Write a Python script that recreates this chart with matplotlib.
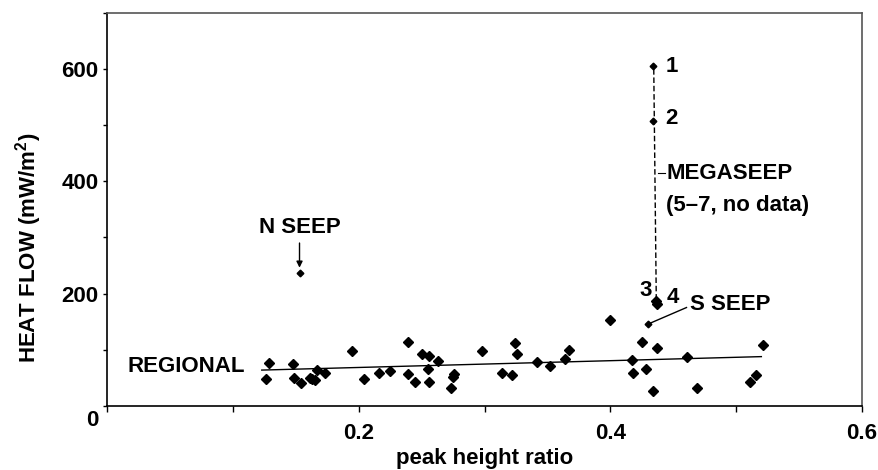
import numpy as np
import matplotlib.pyplot as plt

plt.rcParams['font.family'] = ['Liberation Sans', 'DejaVu Sans']
plt.rcParams['font.weight'] = 'bold'
plt.rcParams['axes.labelweight'] = 'bold'
plt.rcParams['mathtext.fontset'] = 'custom'
plt.rcParams['mathtext.bf'] = 'Liberation Sans:bold'
plt.rcParams['mathtext.rm'] = 'Liberation Sans:bold'

# regional heat flow vs peak height ratio
reg_x = [0.129, 0.126, 0.148, 0.149, 0.154, 0.161, 0.167, 0.163, 0.165, 0.173,
         0.195, 0.204, 0.216, 0.225, 0.239, 0.239, 0.245, 0.250, 0.256, 0.255,
         0.256, 0.263, 0.276, 0.275, 0.273, 0.298, 0.314, 0.322, 0.324, 0.326,
         0.342, 0.352, 0.364, 0.367, 0.400, 0.417, 0.418, 0.425, 0.428, 0.434,
         0.437, 0.461, 0.469, 0.521, 0.516, 0.511, 0.436, 0.437]
reg_y = [77, 48, 74, 49, 40, 49, 64, 47, 45, 58,
         98, 47, 59, 62, 114, 56, 42, 92, 89, 65,
         42, 80, 56, 51, 31, 97, 58, 55, 111, 93,
         78, 71, 83, 99, 153, 82, 59, 114, 66, 27,
         102, 86, 32, 108, 54, 43, 187, 181]

# small markers: seeps 1, 2, S SEEP, N SEEP
small_x = [0.434, 0.434, 0.430, 0.153]
small_y = [605, 508, 145, 236]

# regression line end points
fit_x = [0.123, 0.520]
fit_y = [63.5, 87.5]

# megaseep dashed connector
mega_x = [0.4345, 0.4365]
mega_y = [600, 190]

fs = 16

fig = plt.figure(figsize=(8.79, 4.70), dpi=100)
ax = fig.add_axes([0.1217, 0.1368, 0.859, 0.8355])

ax.plot(fit_x, fit_y, '-', color='black', lw=1.0)
ax.plot(mega_x, mega_y, '--', color='black', lw=1.0, dashes=(4, 2))
ax.plot(reg_x, reg_y, 'D', color='black', ms=4.6, mec='black')
ax.plot(small_x, small_y, 'D', color='black', ms=3.4, mec='black')

ax.set_xlim(0, 0.6)
ax.set_ylim(0, 700)
ax.set_xticks(np.arange(0, 0.61, 0.1))
ax.set_xticklabels(['', '', '0.2', '', '0.4', '', '0.6'])
ax.set_yticks(np.arange(0, 701, 100))
ax.set_yticklabels(['', '', '200', '', '400', '', '600', ''])
ax.tick_params(axis='x', direction='out', length=4.2, width=1, pad=8, labelsize=fs)
ax.tick_params(axis='y', direction='out', length=3, width=1, pad=3, labelsize=fs)
ax.annotate('0', xy=(0, 0), xytext=(-8, -15), textcoords='offset pixels',
            ha='right', va='center', fontsize=fs, annotation_clip=False)

for s in ['left', 'bottom']:
    ax.spines[s].set_color('black')
    ax.spines[s].set_linewidth(1.2)
for s in ['top', 'right']:
    ax.spines[s].set_color('#555555')
    ax.spines[s].set_linewidth(1.2)

ax.set_xlabel('peak height ratio', fontsize=fs, fontweight='bold', labelpad=3)
fig.text(29 / 879, 1 - 248 / 470, r'HEAT FLOW (mW/m$^{\mathbf{2}}$)', rotation=90,
         ha='center', va='center', fontsize=fs)

# annotations
ax.text(0.016, 70, 'REGIONAL', fontsize=fs, va='center', ha='left')
ax.text(0.153, 318, 'N SEEP', fontsize=fs, va='center', ha='center')
ax.annotate('', xy=(0.153, 246), xytext=(0.153, 290),
            arrowprops=dict(arrowstyle='-|>', color='black', lw=1,
                            mutation_scale=9, shrinkA=0, shrinkB=0))
ax.text(0.444, 605, '1', fontsize=fs, va='center', ha='left')
ax.text(0.444, 512, '2', fontsize=fs, va='center', ha='left')
ax.text(0.428, 205, '3', fontsize=fs, va='center', ha='center')
ax.text(0.445, 192, '4', fontsize=fs, va='center', ha='left')
ax.plot([0.4375, 0.4435], [414, 414], color='black', lw=0.8)
ax.text(0.4445, 414, 'MEGASEEP', fontsize=fs, va='center', ha='left')
ax.text(0.4445, 357, '(5\u20137, no data)', fontsize=fs, va='center', ha='left')
ax.plot([0.4305, 0.4605], [146, 175], color='black', lw=1)
ax.text(0.463, 180, 'S SEEP', fontsize=fs, va='center', ha='left')

fig.savefig('out.png', dpi=100)
